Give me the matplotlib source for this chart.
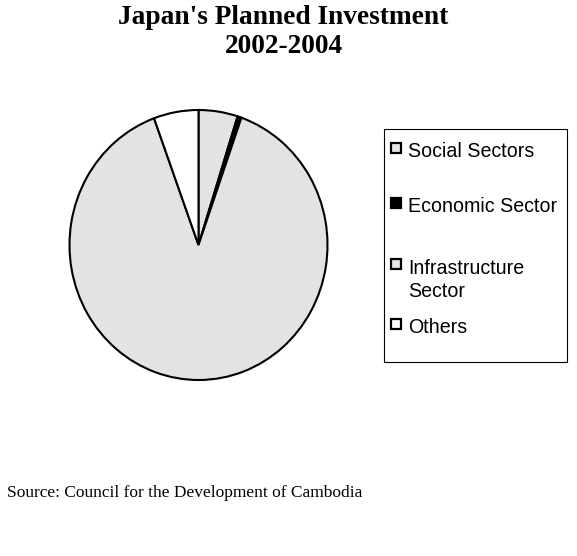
import matplotlib
matplotlib.use('Agg')
import matplotlib.pyplot as plt
from matplotlib.patches import Rectangle

# Japan's planned investment 2002-2004, share by sector (%)
sectors = ["Social Sectors", "Economic Sector", "Infrastructure\nSector", "Others"]
shares = [4.9, 0.5, 89.0, 5.6]
sector_colors = ["#e3e3e3", "#000000", "#e3e3e3", "#ffffff"]

W, H = 577, 556
fig = plt.figure(figsize=(W / 100, H / 100), dpi=100)

# pie area in pixels (slightly taller than wide, like the original)
ax = fig.add_axes([69.5 / W, (H - 380) / H, 258 / W, 270 / H])
wedges, _ = ax.pie(shares, colors=sector_colors, startangle=90, counterclock=False,
                   wedgeprops=dict(edgecolor="black", linewidth=1.5))
for w in wedges:
    w.set_clip_on(False)
ax.set_xlim(-1, 1)
ax.set_ylim(-1, 1)
ax.set_aspect("auto")
ax.axis("off")

fig.text(283.5 / W, 1 - 53 / H, "Japan's Planned Investment\n2002-2004",
         ha="center", va="baseline", multialignment="center",
         family="Liberation Serif", fontweight="bold", fontsize=19.7)

# legend box, drawn by hand so the spacing matches
fig.add_artist(Rectangle((384 / W, (H - 362) / H), (567 - 384) / W, (362 - 129) / H,
                         transform=fig.transFigure, fill=False, edgecolor="black", linewidth=0.8))
first_lines = [157, 212, 273, 333]   # baseline of first line of each entry (px from top)
last_lines = [157, 212, 297, 333]    # baseline of last line
for i, lab in enumerate(sectors):
    yb = first_lines[i]
    fig.add_artist(Rectangle((391 / W, (H - yb + 4.5) / H), 9.5 / W, 10 / H,
                             transform=fig.transFigure, facecolor=sector_colors[i],
                             edgecolor="black", linewidth=1.6))
    fig.text(408 / W, 1 - last_lines[i] / H, lab, ha="left", va="baseline",
             family="Liberation Sans", fontsize=14.1, linespacing=1.3)

fig.text(7 / W, 1 - 497 / H, "Source: Council for the Development of Cambodia",
         ha="left", va="baseline", family="Liberation Serif", fontsize=12.5)

fig.savefig("out.png", dpi=100)
